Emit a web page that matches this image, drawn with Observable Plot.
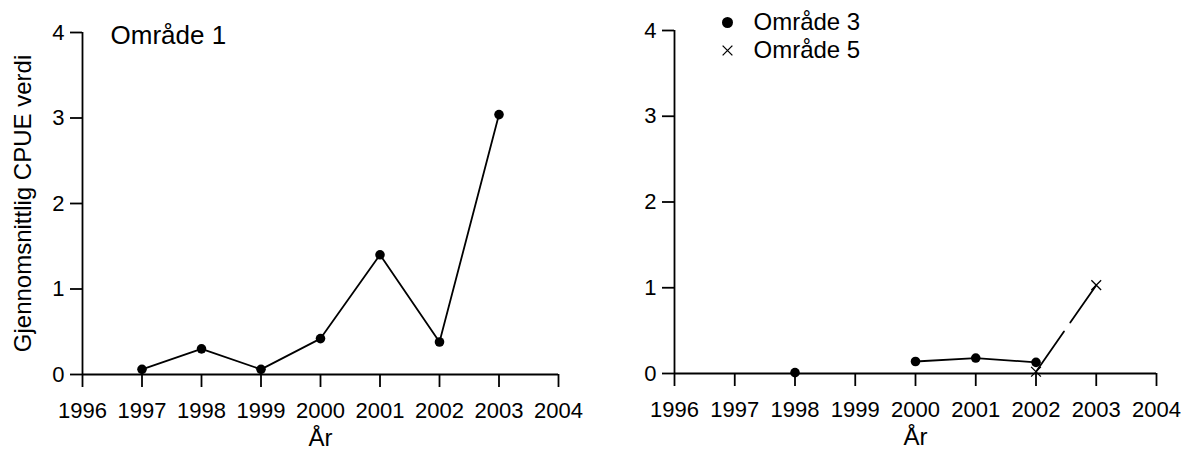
<!DOCTYPE html>
<html>
<head>
<meta charset="utf-8">
<script src="https://cdn.jsdelivr.net/npm/d3@7"></script>
<script src="https://cdn.jsdelivr.net/npm/@observablehq/plot@0.6"></script>
<style>
  body { margin: 0; background: #fff; }
  #wrap { display: flex; width: 1184px; }
  #wrap > div { width: 592px; }
  svg { font-family: "Liberation Sans", Arial, sans-serif; }
</style>
</head>
<body>
<div id="wrap"><div id="left"></div><div id="right"></div></div>
<script>
const years = [1997, 1998, 1999, 2000, 2001, 2002, 2003];
const omrade1 = [0.06, 0.30, 0.06, 0.42, 1.40, 0.38, 3.04];
const omrade3 = [null, 0.01, null, 0.14, 0.18, 0.13, null];
const omrade5 = [null, null, null, null, null, 0.02, 1.03];
const xTicks = [1996, 1997, 1998, 1999, 2000, 2001, 2002, 2003, 2004];
const yTicks = [0, 1, 2, 3, 4];
const yLabel = "Gjennomsnittlig CPUE verdi";
const xLabel = "År";
const labels = ["Område 1", "Område 3", "Område 5"];

const font = "Liberation Sans, Arial, sans-serif";

function rows(vals) {
  return years.map((y, i) => ({year: y, v: vals[i]}));
}

function frame(withYLabel) {
  const m = [
    Plot.ruleY([0], {x1: 1996, x2: 2004, stroke: "#000", strokeWidth: 1.8}),
    Plot.ruleX([1996], {y1: 0, y2: 4, stroke: "#000", strokeWidth: 1.8}),
    Plot.axisX({ticks: xTicks, tickFormat: "d", tickSize: 13, tickPadding: 15, fontSize: 22, label: null, strokeWidth: 1.8}),
    Plot.axisY({ticks: yTicks, tickFormat: "d", tickSize: 12, tickPadding: 6, fontSize: 22, label: null, strokeWidth: 1.8}),
    Plot.text([xLabel], {frameAnchor: "bottom", dy: 64, lineAnchor: "middle", textAnchor: "middle", fontSize: 24, fill: "#000"})
  ];
  if (withYLabel) {
    m.push(Plot.text([yLabel], {frameAnchor: "left", rotate: -90, dx: -59, textAnchor: "middle", lineAnchor: "middle", fontSize: 24, fill: "#000"}));
  }
  return m;
}

const common = {
  width: 592,
  height: 450,
  style: {fontFamily: font, color: "#000", background: "#fff"},
  x: {domain: [1996, 2004]},
  y: {domain: [0, 4]}
};

const left = Plot.plot({
  ...common,
  marginLeft: 82, marginRight: 34, marginTop: 32, marginBottom: 76,
  marks: [
    ...frame(true),
    Plot.line(rows(omrade1), {x: "year", y: "v", stroke: "#000", strokeWidth: 1.8}),
    Plot.dot(rows(omrade1), {x: "year", y: "v", r: 4.8, fill: "#000"}),
    Plot.text([labels[0]], {frameAnchor: "top-left", dx: 28, dy: 3, textAnchor: "start", lineAnchor: "middle", fontSize: 26, fill: "#000"})
  ]
});

const right = Plot.plot({
  ...common,
  marginLeft: 82, marginRight: 28, marginTop: 30, marginBottom: 77,
  marks: [
    ...frame(false),
    Plot.line(rows(omrade3), {x: "year", y: "v", stroke: "#000", strokeWidth: 1.8}),
    Plot.dot(rows(omrade3), {x: "year", y: "v", r: 4.8, fill: "#000"}),
    Plot.line(rows(omrade5).filter(d => d.v != null), {x: "year", y: "v", stroke: "#000", strokeWidth: 1.8, strokeDasharray: "49,11"}),
    Plot.dot(rows(omrade5), {x: "year", y: "v", symbol: "times", r: 4.5, stroke: "#000", strokeWidth: 1.3}),
    Plot.dot([labels[1]], {frameAnchor: "top-left", dx: 53, dy: -8, r: 5.5, fill: "#000"}),
    Plot.text([labels[1]], {frameAnchor: "top-left", dx: 79, dy: -8, textAnchor: "start", lineAnchor: "middle", fontSize: 24, fill: "#000"}),
    Plot.dot([labels[2]], {frameAnchor: "top-left", dx: 53, dy: 20, r: 4.5, symbol: "times", stroke: "#000", strokeWidth: 1.3}),
    Plot.text([labels[2]], {frameAnchor: "top-left", dx: 79, dy: 20, textAnchor: "start", lineAnchor: "middle", fontSize: 24, fill: "#000"})
  ]
});

document.getElementById("left").appendChild(left);
document.getElementById("right").appendChild(right);
</script>
</body>
</html>
